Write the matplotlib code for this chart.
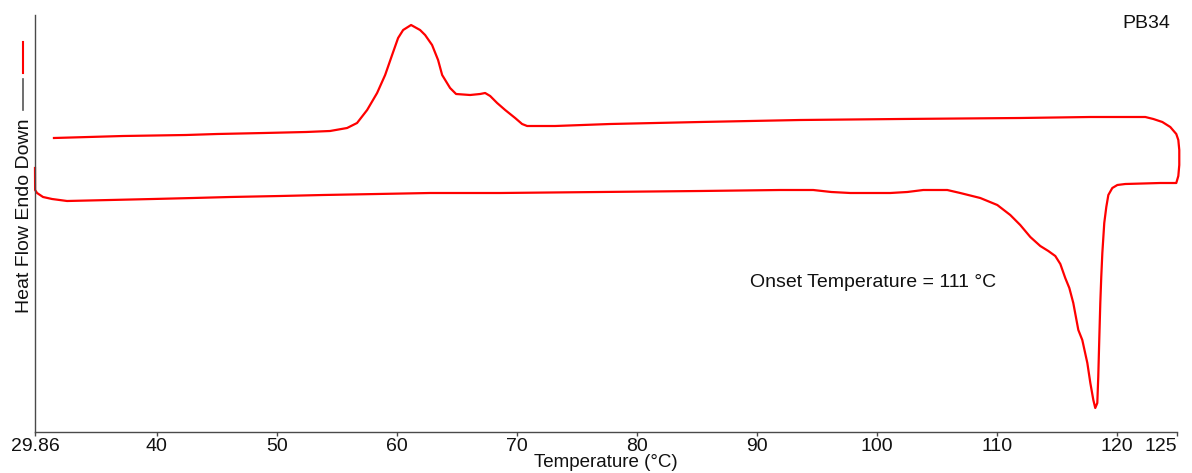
import matplotlib
matplotlib.use("Agg")
import matplotlib.pyplot as plt
from matplotlib.lines import Line2D

plt.rcParams['font.family'] = ['Liberation Sans', 'DejaVu Sans']

# DSC run of sample PB34: heating segment then cooling segment (arbitrary heat-flow units)
heat_temp = [29.86, 29.87, 30.03, 30.53, 31.28, 32.53, 36.11, 39.69, 43.03, 46.11,
             50.28, 53.86, 58.36, 62.78, 68.61, 76.94, 85.28, 91.94, 94.69, 96.20,
             97.78, 101.11, 102.53, 103.86, 105.86, 106.94, 108.61, 110.03, 111.11,
             111.94, 112.78, 113.61, 114.28, 114.86, 115.28, 115.69, 116.03, 116.36,
             116.78, 117.11, 117.53, 117.78, 118.03, 118.19, 118.36, 118.44, 118.53,
             118.61, 118.69, 118.78, 118.94, 119.11, 119.28, 119.61, 120.03, 120.69,
             123.61, 124.94, 125.11, 125.19, 125.19, 125.11, 124.94, 124.44, 123.78,
             123.03, 122.36]
heat_flow = [0.82, 0.60, 0.57, 0.53, 0.51, 0.49, 0.50, 0.51, 0.52, 0.53,
             0.54, 0.55, 0.56, 0.57, 0.57, 0.58, 0.59, 0.60, 0.60, 0.58,
             0.57, 0.57, 0.58, 0.60, 0.60, 0.57, 0.52, 0.45, 0.35,
             0.25, 0.13, 0.04, -0.01, -0.06, -0.14, -0.28, -0.38, -0.53,
             -0.80, -0.90, -1.13, -1.33, -1.50, -1.58, -1.53, -1.27, -0.87,
             -0.53, -0.27, -0.03, 0.27, 0.43, 0.55, 0.62, 0.65, 0.66,
             0.67, 0.67, 0.74, 0.85, 1.00, 1.10, 1.16, 1.23, 1.28,
             1.31, 1.33]

cool_temp = [122.36, 117.78, 111.94, 101.94, 93.61, 85.28, 77.78, 73.19, 70.86,
             70.44, 69.86, 69.03, 68.36, 67.78, 67.36, 66.94, 66.11, 64.94, 64.44,
             63.78, 63.44, 62.94, 62.36, 61.94, 61.19, 60.53, 60.11, 59.61, 59.03,
             58.36, 57.53, 56.69, 55.86, 54.44, 52.44, 48.94, 45.03, 42.44, 37.19,
             31.44]
cool_flow = [1.33, 1.33, 1.32, 1.31, 1.30, 1.28, 1.26, 1.24, 1.24,
             1.26, 1.32, 1.40, 1.47, 1.54, 1.57, 1.56, 1.55, 1.56, 1.62,
             1.75, 1.90, 2.05, 2.15, 2.20, 2.25, 2.20, 2.12, 1.95, 1.75,
             1.57, 1.40, 1.27, 1.22, 1.19, 1.18, 1.17, 1.16, 1.15, 1.14,
             1.12]

tick_values = [29.86, 40, 50, 60, 70, 80, 90, 100, 110, 120, 125]
tick_labels = ["29.86", "40", "50", "60", "70", "80", "90", "100", "110", "120", "125"]

W, H = 1192, 473
fig = plt.figure(figsize=(W / 100, H / 100), dpi=100)
ax = fig.add_axes([35 / W, 41 / H, (1177 - 35) / W, (432 - 15) / H])

ax.plot(heat_temp + cool_temp, heat_flow + cool_flow, color="#ff0000", lw=1.6,
        clip_on=False, solid_joinstyle="round")

ax.set_xlim(29.86, 125)
ax.set_ylim(-1.82, 2.35)

for side in ("top", "right"):
    ax.spines[side].set_visible(False)
ax.spines["left"].set_color("#4a4a4a")
ax.spines["bottom"].set_color("#4a4a4a")
ax.spines["left"].set_linewidth(1.0)
ax.spines["bottom"].set_linewidth(1.0)

ax.set_yticks([])
ax.set_xticks(tick_values)
ax.set_xticklabels(tick_labels)
ax.tick_params(axis="x", length=3, width=1, color="#4a4a4a", pad=1.5,
               labelsize=14, labelcolor="#111111")
ax.get_xticklabels()[-1].set_horizontalalignment("right")

ax.set_xlabel("Temperature (°C)", fontsize=13.5, color="#111111", labelpad=-1)

# rotated y label with its line-style key above it
fig.text(25 / W, 1 - 216 / H, "Heat Flow Endo Down", rotation=90,
         ha="center", va="center", fontsize=14, color="#111111")
fig.add_artist(Line2D([23 / W, 23 / W], [1 - 110 / H, 1 - 79 / H],
                      color="#555555", lw=1.2))
fig.add_artist(Line2D([23 / W, 23 / W], [1 - 73 / H, 1 - 42 / H],
                      color="#ff0000", lw=1.5))

fig.text(1170 / W, 1 - 15 / H, "PB34", ha="right", va="top",
         fontsize=14, color="#111111")

ax.text(89.44, -0.37, "Onset Temperature = 111 °C", ha="left", va="baseline",
        fontsize=14, color="#111111")

fig.savefig("out.png", dpi=100, facecolor="white")
